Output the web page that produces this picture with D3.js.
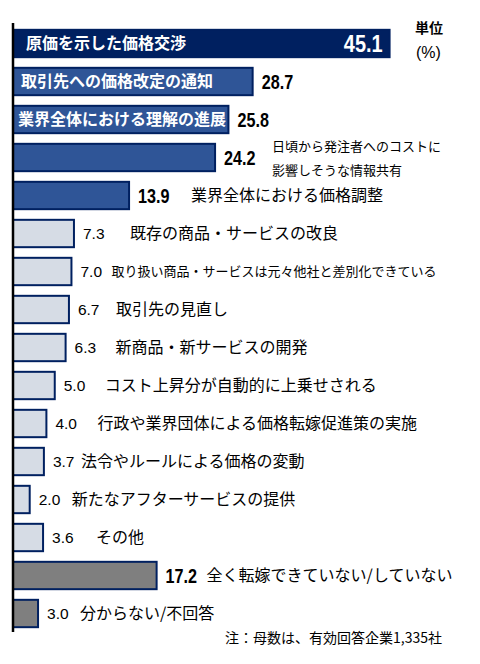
<!DOCTYPE html>
<html>
<head>
  <meta charset="utf-8">
  <title>価格転嫁の方法</title>
  <script src="https://d3js.org/d3.v7.min.js"></script>
  <style>
    body { margin: 0; background: #fff; }
    svg { display: block; }
  </style>
</head>
<body>
<div id="chart"></div>
<script>
  const width = 480,
    height = 664;

  // 回答項目 (上から順)
  const labels = [
    "原価を示した価格交渉",
    "取引先への価格改定の通知",
    "業界全体における理解の進展",
    "日頃から発注者へのコストに|影響しそうな情報共有",
    "業界全体における価格調整",
    "既存の商品・サービスの改良",
    "取り扱い商品・サービスは元々他社と差別化できている",
    "取引先の見直し",
    "新商品・新サービスの開発",
    "コスト上昇分が自動的に上乗せされる",
    "行政や業界団体による価格転嫁促進策の実施",
    "法令やルールによる価格の変動",
    "新たなアフターサービスの提供",
    "その他",
    "全く転嫁できていない/していない",
    "分からない/不回答"
  ];
  // 割合 (%)
  const values = [45.1, 28.7, 25.8, 24.2, 13.9, 7.3, 7.0, 6.7, 6.3, 5.0, 4.0, 3.7, 2.0, 3.6, 17.2, 3.0];
  // 色分けのグループ
  const groups = ["top", "high", "high", "high", "high", "low", "low", "low", "low", "low", "low", "low", "low", "low", "none", "none"];

  const unitText = ["単位", "(%)"];
  const noteText = "注：母数は、有効回答企業1,335社";

  // layout: label offset (inside rows from axis, others from bar end)
  const labelDx = [13, 8, 5, 56, 61, 55, 39, 46, 49, 49, 50, 36, 41, 52, 49, 41];

  const fills = { top: "#002060", high: "#2F5597", low: "#D6DCE5", none: "#7F7F7F" };
  const navy = "#002060";
  const jp = "'Noto Sans CJK JP', 'Noto Sans', sans-serif";
  const num = "'Liberation Sans', Arial, sans-serif";

  const svg = d3.select("#chart")
    .append("svg")
    .attr("width", width)
    .attr("height", height);

  const x = d3.scaleLinear()
    .domain([0, 50])
    .range([13, 430.5]);

  const y = d3.scaleBand()
    .domain(d3.range(values.length))
    .range([24.5, 632.5])
    .paddingInner(0.28)
    .paddingOuter(0.14);

  const rows = svg.selectAll("g.row")
    .data(values)
    .join("g")
    .attr("class", "row")
    .attr("transform", (d, i) => "translate(0," + y(i) + ")");

  rows.append("rect")
    .attr("x", x(0))
    .attr("y", 0)
    .attr("width", d => x(d) - x(0))
    .attr("height", y.bandwidth())
    .attr("fill", (d, i) => fills[groups[i]])
    .attr("stroke", navy)
    .attr("stroke-width", 2);

  const mid = y.bandwidth() / 2;
  const inside = i => i < 3;
  const boldVal = i => i < 5 || i === 14;

  // values (bold ones squeezed like a narrow face)
  rows.append("text")
    .attr("transform", (d, i) => {
      const px = i === 0 ? x(d) - 7 : x(d) + 9;
      return "translate(" + px + "," + mid + ")" + (boldVal(i) ? " scale(0.83,1)" : "");
    })
    .attr("dy", "0.36em")
    .attr("text-anchor", (d, i) => i === 0 ? "end" : "start")
    .attr("fill", (d, i) => i === 0 ? "#fff" : "#000")
    .style("font-family", num)
    .style("font-weight", (d, i) => boldVal(i) ? "bold" : "normal")
    .style("font-size", (d, i) => i === 0 ? "24px" : boldVal(i) ? "19.5px" : "15.5px")
    .text(d => d.toFixed(1));

  // category labels
  const lab = rows.append("text")
    .attr("x", (d, i) => inside(i) ? x(0) + labelDx[i] : x(d) + 1 + labelDx[i])
    .attr("y", mid)
    .attr("dy", "0.36em")
    .attr("fill", (d, i) => inside(i) ? "#fff" : "#000")
    .style("font-family", jp)
    .style("font-weight", (d, i) => inside(i) ? "bold" : "normal")
    .style("font-size", (d, i) => (i === 3 || i === 6) ? "13px" : "16px");

  lab.each(function(d, i) {
    const parts = labels[i].split("|");
    const t = d3.select(this);
    if (parts.length === 1) {
      t.text(parts[0]);
    } else {
      t.attr("dy", null);
      parts.forEach((p, k) => {
        t.append("tspan")
          .attr("x", x(d) + 1 + labelDx[i])
          .attr("y", mid + (k === 0 ? -11 : 13))
          .attr("dy", "0.36em")
          .text(p);
      });
    }
  });

  // axis line
  svg.append("line")
    .attr("x1", x(0)).attr("x2", x(0))
    .attr("y1", 23).attr("y2", 632)
    .attr("stroke", "#000")
    .attr("stroke-width", 2.5);

  // unit
  svg.append("text")
    .attr("x", 415).attr("y", 27.5).attr("dy", "0.36em")
    .style("font-family", jp).style("font-weight", "bold").style("font-size", "14px")
    .text(unitText[0]);
  svg.append("text")
    .attr("x", 416).attr("y", 52).attr("dy", "0.36em")
    .style("font-family", num).style("font-size", "16px")
    .text(unitText[1]);

  // note
  svg.append("text")
    .attr("x", 442).attr("y", 638).attr("dy", "0.36em")
    .attr("text-anchor", "end")
    .style("font-family", jp).style("font-size", "14px")
    .text(noteText);
</script>
</body>
</html>
